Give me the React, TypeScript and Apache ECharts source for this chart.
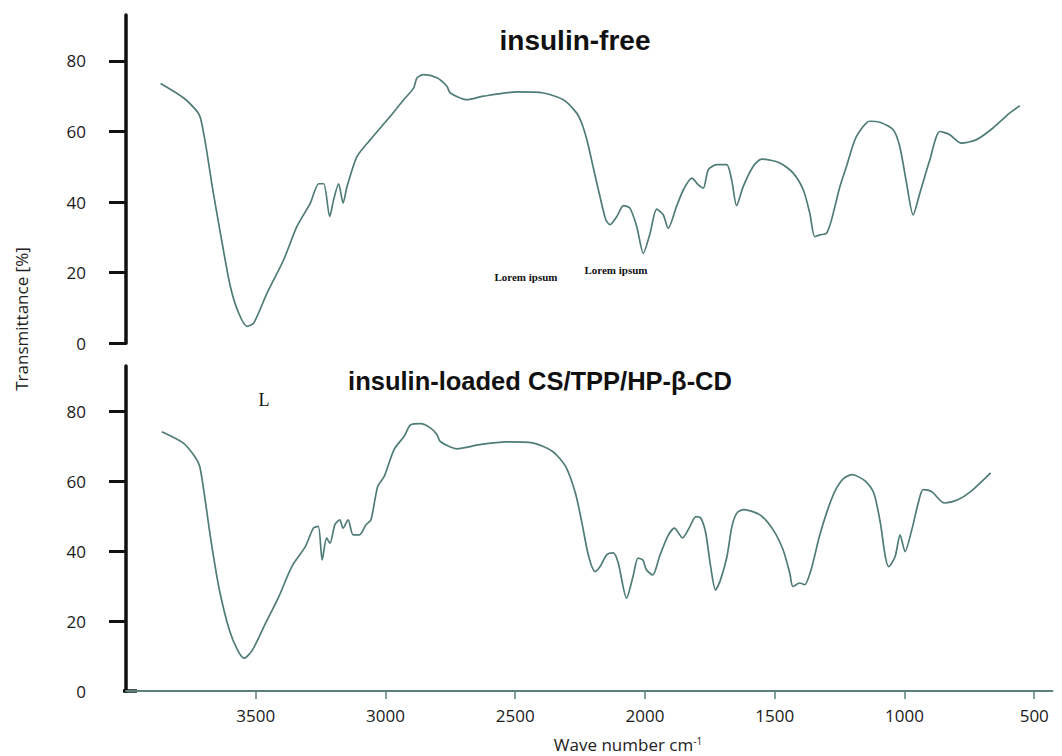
import React, { useEffect, useRef } from "react";
import * as echarts from "echarts";

// ---- data ----
const xTickValues = [3500, 3000, 2500, 2000, 1500, 1000, 500];
const yTickValues = [0, 20, 40, 60, 80];
const panelTitles = ["insulin-free", "insulin-loaded CS/TPP/HP-β-CD"];
const xAxisTitle = "Wave number cm";
const yAxisTitle = "Transmittance [%]";
const annotations = ["L", "Lorem ipsum", "Lorem ipsum"];

const freeWave = [
  3868, 3780, 3729, 3716, 3697, 3671, 3640, 3602, 3570, 3538, 3513, 3462, 3399, 3348, 3297, 3265,
  3246, 3223, 3208, 3189, 3172, 3157, 3119, 3068, 2992, 2941, 2903, 2890, 2865, 2814, 2776, 2763,
  2700, 2637, 2509, 2408, 2332, 2281, 2260, 2240, 2217, 2192, 2170, 2154, 2128, 2103, 2078, 2052,
  2027, 2001, 1976, 1951, 1932, 1900, 1874, 1842, 1817, 1798, 1779, 1747, 1709, 1690, 1671, 1646,
  1608, 1576, 1506, 1455, 1417, 1392, 1373, 1353, 1328, 1309, 1277, 1252, 1214, 1163, 1125, 1074,
  1049, 1023, 998, 972, 934, 896, 858, 814, 756, 693, 630, 591,
];
const freeTrans = [
  73.6, 69.5, 65.7, 63.8, 56.7, 44.4, 31.2, 16.1, 8.5, 4.8, 5.7, 14.2, 23.6, 33.1, 39.7, 45.2,
  45.2, 35.9, 40.7, 45.2, 39.7, 44.4, 52.9, 57.7, 64.3, 69.0, 72.3, 75.2, 76.1, 75.2, 72.8, 70.9,
  69.0, 70.0, 71.2, 70.9, 69.0, 65.2, 62.0, 57.0, 49.5, 41.5, 35.0, 33.6, 35.9, 39.0, 38.3, 33.1,
  25.5, 31.2, 38.0, 36.4, 32.6, 38.8, 43.5, 46.8, 44.9, 44.0, 49.2, 50.6, 50.6, 46.3, 39.0, 44.4,
  50.1, 52.2, 51.1, 48.2, 43.5, 36.9, 30.2, 30.7, 31.2, 35.0, 44.4, 50.1, 58.6, 62.9, 62.6, 60.5,
  55.8, 45.4, 36.4, 42.6, 52.0, 60.0, 59.1, 56.7, 57.7, 61.0, 65.2, 67.3,
];

const loadedWave = [
  3862, 3780, 3735, 3716, 3697, 3671, 3640, 3602, 3570, 3545, 3513, 3462, 3411, 3361, 3309, 3278,
  3259, 3244, 3227, 3214, 3195, 3176, 3164, 3144, 3125, 3100, 3075, 3056, 3030, 3005, 2967, 2928,
  2903, 2865, 2827, 2802, 2789, 2725, 2637, 2535, 2433, 2357, 2306, 2268, 2243, 2217, 2192, 2173,
  2147, 2122, 2103, 2071, 2046, 2027, 2008, 1995, 1970, 1944, 1913, 1887, 1855, 1830, 1804, 1785,
  1766, 1747, 1728, 1709, 1684, 1665, 1646, 1620, 1557, 1506, 1468, 1442, 1430, 1404, 1385, 1360,
  1328, 1296, 1265, 1233, 1201, 1150, 1118, 1093, 1074, 1061, 1036, 1017, 998, 972, 947, 928,
  896, 846, 795, 744, 668,
];
const loadedTrans = [
  74.2, 71.0, 67.1, 64.3, 55.7, 42.3, 28.9, 17.5, 11.7, 9.4, 11.7, 19.4, 27.0, 35.6, 41.3, 46.6,
  47.1, 37.5, 43.8, 42.3, 47.6, 49.0, 46.6, 49.0, 44.7, 44.7, 47.6, 49.0, 58.5, 61.4, 69.1, 72.9,
  76.2, 76.5, 75.3, 73.4, 71.4, 69.3, 70.5, 71.3, 71.0, 68.6, 64.3, 56.6, 48.1, 38.5, 34.2, 35.6,
  39.0, 39.5, 36.6, 26.6, 32.8, 38.0, 37.5, 34.7, 33.2, 38.5, 44.2, 46.6, 43.8, 46.6, 49.9, 49.5,
  45.2, 35.6, 28.9, 31.8, 38.5, 47.1, 50.9, 51.9, 50.4, 46.1, 40.4, 33.7, 29.9, 30.9, 30.4, 34.7,
  44.2, 51.9, 57.6, 60.9, 61.9, 60.0, 56.6, 48.1, 38.5, 35.6, 38.5, 44.7, 39.9, 46.1, 53.8, 57.6,
  57.1, 53.8, 54.7, 57.1, 62.4,
];

const LINE_COLOR = "#4f7c77";
const AXIS_FONT = "'Open Sans', 'Noto Sans', sans-serif";

export default function App() {
  const ref = useRef<HTMLDivElement>(null);

  useEffect(() => {
    if (!ref.current) return;
    const chart = echarts.init(ref.current, null, { renderer: "svg" });

    const zip = (xs: number[], ys: number[]) => xs.map((x, i) => [x, ys[i]]);

    const yAxisCommon = (gridIndex: number, tickVals: number[]) => ({
      type: "value",
      gridIndex,
      min: 0,
      max: 93,
      axisLine: { show: true, lineStyle: { color: "#111", width: 3.5 } },
      axisTick: {
        show: true,
        length: 17,
        customValues: tickVals,
        lineStyle: { color: "#111", width: 3 },
      },
      axisLabel: {
        customValues: yTickValues,
        formatter: (v: number) => String(v),
        fontSize: 17,
        color: "#1a1a1a",
        fontFamily: AXIS_FONT,
        margin: 40,
      },
      splitLine: { show: false },
    });

    chart.setOption({
      animation: false,
      backgroundColor: "#ffffff",
      grid: [
        { left: 126, right: -1, top: 15, height: 328.3 },
        { left: 126, right: -1, top: 366, height: 325 },
      ],
      xAxis: [
        { type: "value", gridIndex: 0, min: 430, max: 4000, inverse: true, show: false },
        {
          type: "value",
          gridIndex: 1,
          min: 430,
          max: 4000,
          inverse: true,
          axisLine: { show: true, lineStyle: { color: "#5d7f7c", width: 2 } },
          axisTick: {
            show: true,
            length: 8,
            customValues: xTickValues,
            lineStyle: { color: "#5d7f7c", width: 1.5 },
          },
          axisLabel: {
            customValues: xTickValues,
            formatter: (v: number) => String(v),
            fontSize: 17,
            color: "#1a1a1a",
            fontFamily: AXIS_FONT,
            margin: 16,
          },
          splitLine: { show: false },
        },
      ],
      yAxis: [yAxisCommon(0, yTickValues), yAxisCommon(1, [20, 40, 60, 80])],
      series: [
        {
          type: "line",
          xAxisIndex: 0,
          yAxisIndex: 0,
          data: zip(freeWave, freeTrans),
          showSymbol: false,
          smooth: 0.25,
          lineStyle: { color: LINE_COLOR, width: 1.7 },
        },
        {
          type: "line",
          xAxisIndex: 1,
          yAxisIndex: 1,
          data: zip(loadedWave, loadedTrans),
          showSymbol: false,
          smooth: 0.25,
          lineStyle: { color: LINE_COLOR, width: 1.7 },
        },
      ],
      graphic: [
        {
          type: "text",
          x: 575,
          y: 40,
          style: {
            text: panelTitles[0],
            fontSize: 28,
            fontWeight: "bold",
            fontFamily: "'Liberation Sans', Arial, sans-serif",
            fill: "#111",
            align: "center",
            verticalAlign: "middle",
          },
        },
        {
          type: "text",
          x: 540,
          y: 381,
          style: {
            text: panelTitles[1],
            fontSize: 25.5,
            fontWeight: "bold",
            fontFamily: "'Liberation Sans', Arial, sans-serif",
            fill: "#111",
            align: "center",
            verticalAlign: "middle",
          },
        },
        {
          type: "text",
          x: 264,
          y: 400,
          style: {
            text: annotations[0],
            fontSize: 18,
            fontFamily: "'Liberation Serif', serif",
            fill: "#111",
            align: "center",
            verticalAlign: "middle",
          },
        },
        {
          type: "text",
          x: 526,
          y: 277,
          style: {
            text: annotations[1],
            fontSize: 11,
            fontWeight: "bold",
            fontFamily: "'Liberation Serif', serif",
            fill: "#111",
            align: "center",
            verticalAlign: "middle",
          },
        },
        {
          type: "text",
          x: 616,
          y: 270,
          style: {
            text: annotations[2],
            fontSize: 11,
            fontWeight: "bold",
            fontFamily: "'Liberation Serif', serif",
            fill: "#111",
            align: "center",
            verticalAlign: "middle",
          },
        },
        {
          type: "text",
          x: 21,
          y: 319,
          rotation: Math.PI / 2,
          style: {
            text: yAxisTitle,
            fontSize: 17,
            fontFamily: AXIS_FONT,
            fill: "#222",
            align: "center",
            verticalAlign: "middle",
          },
        },
        {
          type: "text",
          x: 628,
          y: 744,
          style: {
            text: "{a|" + xAxisTitle + "}{b|-1}",
            fill: "#222",
            align: "center",
            verticalAlign: "middle",
            rich: {
              a: { fontSize: 17, fontFamily: AXIS_FONT, fill: "#222", verticalAlign: "bottom" },
              b: {
                fontSize: 10,
                fontFamily: AXIS_FONT,
                fill: "#222",
                verticalAlign: "top",
              },
            },
          },
        },
        {
          type: "line",
          shape: { x1: 123, y1: 691, x2: 137, y2: 691 },
          style: { stroke: "#111", lineWidth: 3.5 },
        },
      ],
    });

    return () => chart.dispose();
  }, []);

  return (
    <div
      ref={ref}
      style={{ position: "absolute", left: 0, top: 0, width: 1062, height: 756 }}
    />
  );
}
